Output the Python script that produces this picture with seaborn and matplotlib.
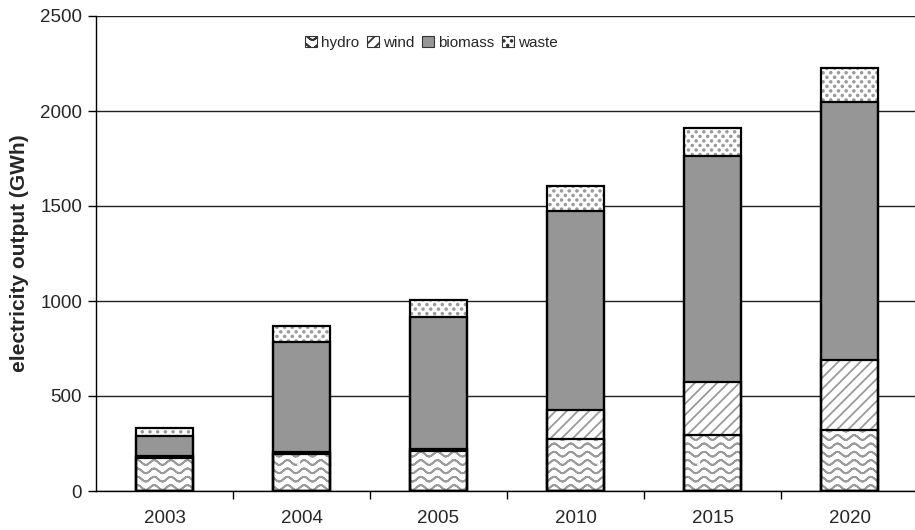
import warnings
import numpy as np
import pandas as pd
import matplotlib
matplotlib.use("Agg")
import matplotlib.pyplot as plt
from matplotlib import hatch as mhatch
from matplotlib.path import Path
from matplotlib.patches import Patch
import seaborn as sns

warnings.filterwarnings("ignore")

# Electricity output by source (GWh)
years = ["2003", "2004", "2005", "2010", "2015", "2020"]
hydro = [175, 195, 212, 272, 295, 320]
wind = [10, 12, 10, 153, 280, 370]
biomass = [105, 578, 693, 1050, 1190, 1355]
waste = [42, 85, 90, 130, 145, 180]
series_names = ["hydro", "wind", "biomass", "waste"]


class WaveHatch(mhatch.HatchPatternBase):
    """Rows of sine waves, selected with the '~' hatch character."""

    samples = 73

    def __init__(self, hatch, density):
        self.num_rows = int(hatch.count("~") * density)
        # each row is traced out and back so the filled area stays empty
        self.num_vertices = self.num_rows * self.samples * 2

    def set_vertices_and_codes(self, vertices, codes):
        xs = np.linspace(0.0, 1.0, self.samples)
        periods = max(self.num_rows // 2, 1)
        amp = 0.024
        n = self.samples
        for i in range(self.num_rows):
            yc = (i + 0.5) / self.num_rows
            ys = yc + amp * np.sin(2 * np.pi * periods * xs)
            start = i * 2 * n
            vertices[start:start + n, 0] = xs
            vertices[start:start + n, 1] = ys
            vertices[start + n:start + 2 * n, 0] = xs[::-1]
            vertices[start + n:start + 2 * n, 1] = ys[::-1]
            codes[start:start + 2 * n] = Path.LINETO
            codes[start] = Path.MOVETO


class DotHatch(mhatch.HatchPatternBase):
    """Staggered grid of small filled dots, selected with ':'."""

    def __init__(self, hatch, density):
        k = hatch.count(":")
        self.cols = 13 * k
        self.rows = 22 * k
        self.circle = Path.unit_circle()
        npts = len(self.circle.vertices)
        self.num_vertices = (self.cols + 1) * (self.rows + 1) * npts if k else 0

    def set_vertices_and_codes(self, vertices, codes):
        cv = self.circle.vertices * 0.0085
        cc = self.circle.codes
        npts = len(cv)
        cursor = 0
        for r in range(self.rows + 1):
            shift = 0.5 / self.cols if r % 2 else 0.0
            for c in range(self.cols + 1):
                x = c / self.cols + shift
                y = r / self.rows
                vertices[cursor:cursor + npts] = cv + (x, y)
                codes[cursor:cursor + npts] = cc
                cursor += npts


mhatch._hatch_types.extend([WaveHatch, DotHatch])

sns.set_theme(style="white")
plt.rcParams["font.family"] = ["Liberation Sans", "DejaVu Sans"]
plt.rcParams["hatch.linewidth"] = 1.3

df = pd.DataFrame({"year": years, "hydro": hydro, "wind": wind,
                   "biomass": biomass, "waste": waste})

fills = {"hydro": "white", "wind": "white", "biomass": "#969696", "waste": "white"}
hatches = {"hydro": "~~", "wind": "///", "biomass": None, "waste": ":"}
hatch_gray = "#9a9a9a"

fig = plt.figure(figsize=(9.15, 5.30), dpi=100)
ax = fig.add_axes([96 / 915, 39 / 530, 822 / 915, 475 / 530])

bar_w = 0.41
cum = df[series_names].cumsum(axis=1)

# Cumulative layers, drawn tallest first so lower segments sit on top
for name in reversed(series_names):
    n_before = len(ax.patches)
    sns.barplot(x=df["year"], y=cum[name], color=fills[name], width=bar_w,
                edgecolor=hatch_gray, linewidth=0, saturation=1, ax=ax,
                zorder=2)
    for p in ax.patches[n_before:]:
        p.set_facecolor(fills[name])
        if hatches[name]:
            p.set_hatch(hatches[name])

# Black outlines for every segment boundary
for name in reversed(series_names):
    sns.barplot(x=df["year"], y=cum[name], fill=False, width=bar_w,
                edgecolor="black", linewidth=1.6, ax=ax, zorder=3)

ax.set_xlim(-0.5, len(years) - 0.5)
ax.set_ylim(0, 2500)
ax.set_yticks(np.arange(0, 2501, 500))
ax.set_xlabel("")
ax.set_ylabel("electricity output (GWh)", fontsize=15, fontweight="bold",
              labelpad=8)

ax.yaxis.grid(True, color="#222222", linewidth=1.0, zorder=0)
ax.set_axisbelow(True)
for s in ["top", "right"]:
    ax.spines[s].set_visible(False)
for s in ["left", "bottom"]:
    ax.spines[s].set_color("black")
    ax.spines[s].set_linewidth(1.0)

ax.tick_params(axis="y", direction="out", length=6, width=1, color="black",
               labelsize=13.5, pad=4, left=True)
ax.tick_params(axis="x", which="major", length=0, labelsize=13.5, pad=14)
ax.set_xticks(np.arange(0.5, len(years) - 0.5), minor=True)
ax.tick_params(axis="x", which="minor", direction="out", length=6, width=1,
               color="black", bottom=True)

handles = [Patch(facecolor=fills[n], edgecolor="#333333", linewidth=0.8,
                 hatch=hatches[n]) for n in series_names]
leg = ax.legend(handles, series_names, loc="center",
                bbox_to_anchor=(0.408, 0.943), ncol=4, frameon=False,
                fontsize=11, handlelength=0.75, handleheight=0.75,
                handletextpad=0.25, columnspacing=0.55)

fig.savefig("out.png", dpi=100)
